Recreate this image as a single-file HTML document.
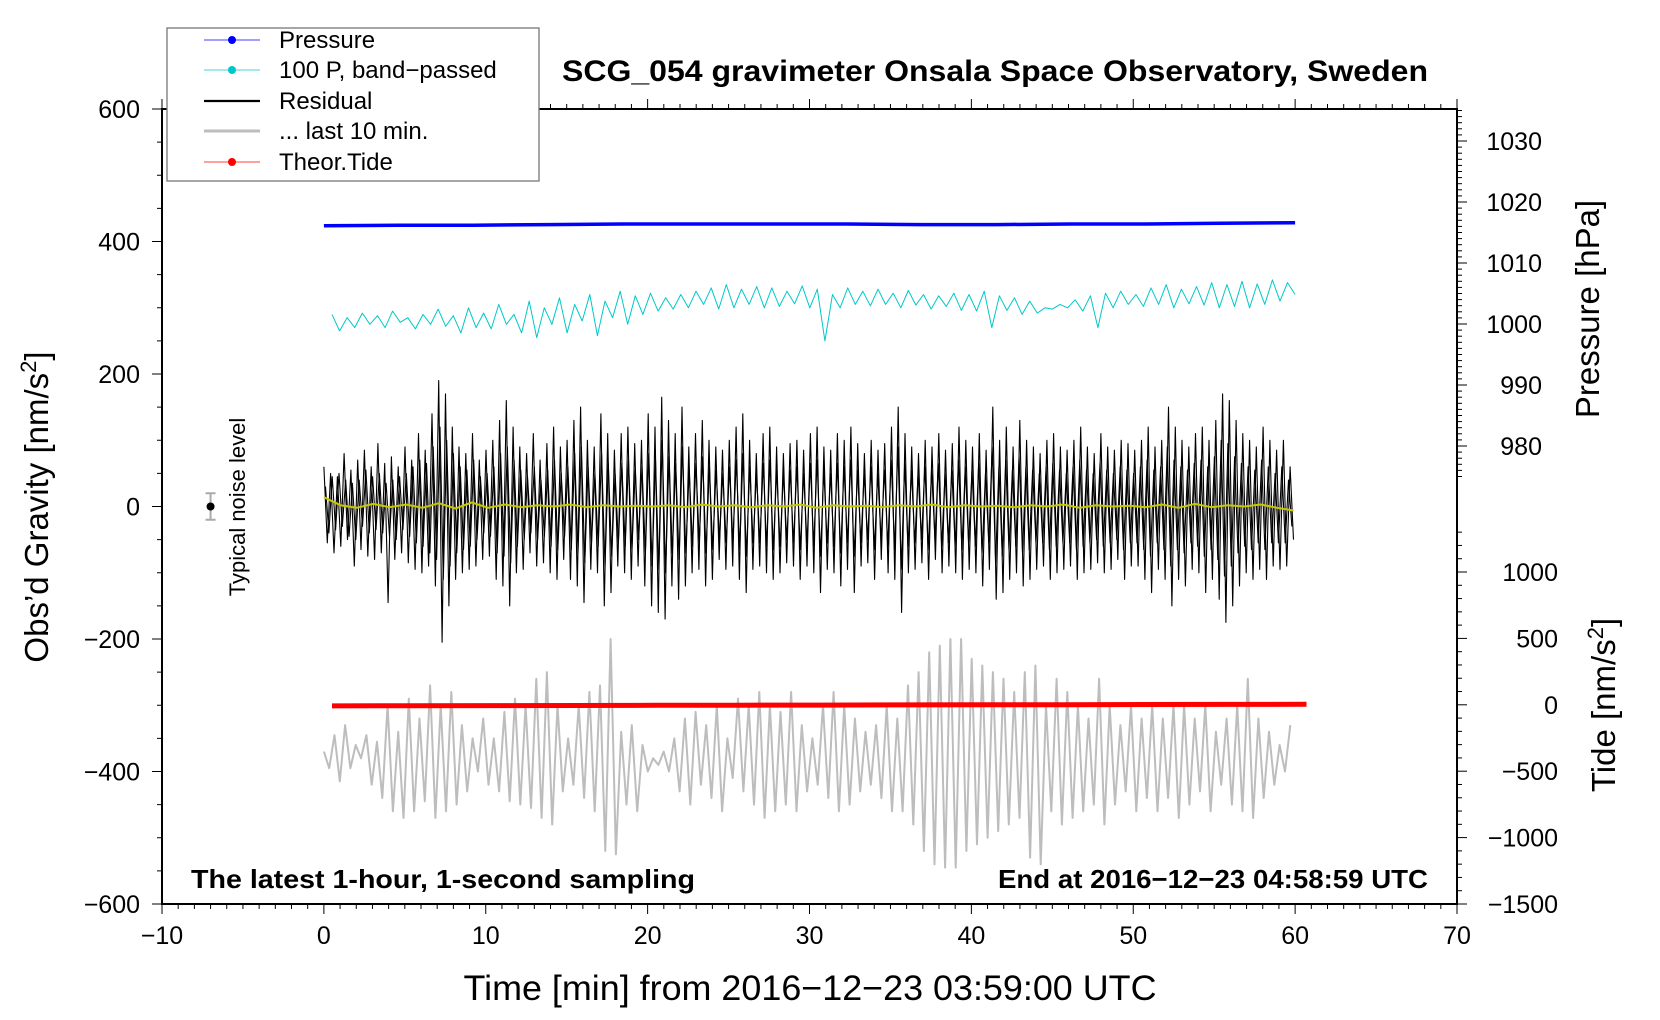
<!DOCTYPE html>
<html><head><meta charset="utf-8"><style>
html,body{margin:0;padding:0;background:#fff;}
svg{display:block;font-family:"Liberation Sans",sans-serif;}
</style></head><body>
<svg id="chart" width="1660" height="1020" viewBox="0 0 1660 1020" xmlns="http://www.w3.org/2000/svg">
<g id="series"></g>
<g id="axes"></g>
<text x="995" y="81" font-size="30" font-weight="bold" text-anchor="middle" textLength="866" lengthAdjust="spacingAndGlyphs">SCG_054 gravimeter Onsala Space Observatory, Sweden</text>
<text x="810" y="1000" font-size="35" text-anchor="middle" textLength="693" lengthAdjust="spacingAndGlyphs">Time [min] from 2016−12−23 03:59:00 UTC</text>
<text transform="translate(48,507) rotate(-90)" font-size="33" text-anchor="middle">Obs’d Gravity [nm/s<tspan font-size="22" dy="-12">2</tspan><tspan dy="12">]</tspan></text>
<text transform="translate(1599,309) rotate(-90)" font-size="33" text-anchor="middle">Pressure [hPa]</text>
<text transform="translate(1615,705) rotate(-90)" font-size="33" text-anchor="middle">Tide [nm/s<tspan font-size="22" dy="-12">2</tspan><tspan dy="12">]</tspan></text>
<text x="191" y="888" font-size="26" font-weight="bold" textLength="504" lengthAdjust="spacingAndGlyphs">The latest 1-hour, 1-second sampling</text>
<text x="1428" y="888" font-size="26" font-weight="bold" text-anchor="end" textLength="430" lengthAdjust="spacingAndGlyphs">End at 2016−12−23 04:58:59 UTC</text>
<text transform="translate(245,507) rotate(-90)" font-size="22" text-anchor="middle">Typical noise level</text>
<g>
<rect x="167" y="28" width="372" height="153" fill="#fff" stroke="#777" stroke-width="1.3"/>
<g><line x1="204" y1="40" x2="260" y2="40" stroke="#0000ff" stroke-width="0.8"/><circle cx="232" cy="40" r="4" fill="#0000ff"/><text x="279" y="48" font-size="24">Pressure</text></g>
<g><line x1="204" y1="70" x2="260" y2="70" stroke="#00c8c8" stroke-width="0.8"/><circle cx="232" cy="70" r="4" fill="#00c8c8"/><text x="279" y="78" font-size="24">100 P, band−passed</text></g>
<g><line x1="204" y1="101" x2="260" y2="101" stroke="#000" stroke-width="2.2"/><text x="279" y="109" font-size="24">Residual</text></g>
<g><line x1="204" y1="131" x2="260" y2="131" stroke="#bdbdbd" stroke-width="3"/><text x="279" y="139" font-size="24">... last 10 min.</text></g>
<g><line x1="204" y1="162" x2="260" y2="162" stroke="#ff0000" stroke-width="0.8"/><circle cx="232" cy="162" r="4" fill="#ff0000"/><text x="279" y="170" font-size="24">Theor.Tide</text></g>
</g>
</svg>
<script>
const NS="http://www.w3.org/2000/svg";
const xTicks=[-10,0,10,20,30,40,50,60,70];
const gTicks=[600,400,200,0,-200,-400,-600];
const pTicks=[980,990,1000,1010,1020,1030];
const tTicks=[1000,500,0,-500,-1000,-1500];
const residual=[60,-55,50,-70,45,-60,80,-50,55,-90,70,-65,85,-75,60,-80,95,-70,65,-145,75,-80,60,-70,
90,-85,70,-95,110,-100,85,-90,140,-120,190,-205,170,-150,120,-110,90,-100,80,-95,110,-90,70,-80,
85,-75,100,-110,130,-120,160,-150,120,-100,90,-95,80,-70,110,-90,70,-85,95,-100,120,-110,90,-80,
100,-110,130,-120,150,-145,100,-95,90,-100,140,-150,110,-130,85,-90,110,-100,120,-110,95,-90,100,-120,
140,-150,120,-160,165,-170,130,-120,110,-140,150,-120,90,-100,110,-95,130,-120,100,-110,90,-80,85,-95,
100,-90,120,-110,140,-130,100,-95,80,-90,110,-100,120,-110,90,-100,80,-85,95,-90,100,-110,85,-90,
110,-100,120,-130,90,-95,85,-100,110,-120,100,-95,120,-130,95,-90,80,-85,100,-110,85,-80,95,-100,
120,-110,150,-160,110,-100,90,-95,80,-85,100,-110,90,-80,110,-100,85,-90,95,-100,120,-110,100,-95,
90,-100,110,-120,85,-95,150,-140,100,-130,120,-110,90,-100,130,-120,100,-110,90,-95,80,-90,100,-110,
110,-100,90,-95,85,-90,100,-110,120,-100,90,-95,80,-85,110,-100,90,-95,85,-80,100,-110,95,-90,
85,-90,100,-110,120,-130,90,-95,100,-110,150,-150,120,-110,100,-120,90,-95,110,-100,120,-130,100,-110,
130,-140,170,-175,160,-150,130,-120,110,-100,100,-110,90,-95,120,-110,100,-90,85,-95,100,-90,60,-50];
const residualB=[30,-40,45,-35,50,-30,40,-45,35,-50,40,-30,55,-40,45,-35,50,-40,35,-45,40,-50,45,-35,
50,-45,60,-55,70,-60,65,-70,90,-80,120,-110,100,-90,80,-70,60,-65,55,-60,70,-50,45,-40,
50,-45,60,-70,80,-75,90,-85,70,-60,55,-50,45,-40,60,-50,40,-45,55,-60,70,-65,50,-45,
60,-65,80,-70,90,-85,60,-55,50,-60,80,-90,65,-75,50,-55,65,-60,70,-65,55,-50,60,-70,
80,-90,70,-95,100,-100,75,-70,65,-80,90,-70,55,-60,65,-55,75,-70,60,-65,55,-50,50,-55,
60,-55,70,-65,80,-75,60,-55,50,-55,65,-60,70,-65,55,-60,50,-50,55,-55,60,-65,50,-55,
65,-60,70,-75,55,-55,50,-60,65,-70,60,-55,70,-75,55,-55,50,-50,60,-65,50,-50,55,-60,
70,-65,90,-95,65,-60,55,-55,50,-50,60,-65,55,-50,65,-60,50,-55,55,-60,70,-65,60,-55,
55,-60,65,-70,50,-55,90,-85,60,-75,70,-65,55,-60,75,-70,60,-65,55,-55,50,-55,60,-65,
65,-60,55,-55,50,-55,60,-65,70,-60,55,-55,50,-50,65,-60,55,-55,50,-50,60,-65,55,-55,
50,-55,60,-65,70,-75,55,-55,60,-65,90,-90,70,-65,60,-70,55,-55,65,-60,70,-75,60,-65,
75,-80,100,-105,95,-90,75,-70,65,-60,60,-65,55,-55,70,-65,60,-55,50,-55,60,-55,40,-30];
const last10=[-370,-395,-345,-415,-330,-395,-360,-380,-345,-420,-355,-440,-300,-460,-340,
-470,-290,-460,-320,-445,-270,-470,-300,-460,-280,-450,-330,-430,-350,-400,-320,
-420,-350,-430,-310,-445,-290,-450,-300,-455,-260,-470,-250,-480,-300,-430,
-350,-420,-300,-440,-280,-460,-270,-520,-200,-525,-340,-450,-330,-460,-360,-400,
-380,-390,-370,-400,-350,-430,-320,-450,-310,-420,-330,-440,-300,-460,-350,
-410,-290,-430,-300,-450,-280,-470,-300,-460,-310,-450,-280,-460,-330,-430,-350,
-420,-300,-440,-280,-460,-300,-450,-320,-430,-340,-420,-330,-440,-300,-460,
-320,-460,-270,-480,-250,-520,-220,-540,-210,-545,-200,-545,-200,-520,-230,-510,
-240,-500,-250,-490,-260,-480,-280,-470,-250,-530,-240,-540,-300,-460,-260,
-480,-280,-470,-300,-460,-320,-450,-260,-480,-300,-450,-330,-430,-300,-460,-320,
-440,-300,-460,-320,-440,-300,-470,-300,-450,-320,-430,-300,-460,-340,-420,
-320,-450,-300,-460,-260,-470,-320,-440,-340,-420,-360,-400,-330];
const bandpassed=[290,265,285,270,292,275,288,270,295,278,285,268,290,275,298,272,288,262,300,270,
292,268,305,275,290,262,310,255,300,275,315,262,305,280,320,258,310,285,325,275,
318,290,322,295,315,298,320,300,325,305,330,298,335,300,328,305,332,300,330,302,
325,306,333,300,328,250,320,300,330,305,325,303,328,305,322,300,326,304,320,298,
318,302,322,296,320,295,325,270,318,296,315,290,310,292,300,298,305,300,312,295,
318,270,322,300,325,305,320,302,330,305,335,300,328,306,332,304,338,300,335,302,
340,300,336,305,342,310,338,320];
const pressure=[1016.1,1016.2,1016.2,1016.3,1016.4,1016.4,1016.4,1016.4,1016.3,1016.3,1016.4,1016.4,1016.5,1016.6];
const tide=[-8,-7,-6,-5,-4,-3,-2,-1,0,1,2,3,4];
const yellow=[14,2,-2,4,-1,3,-2,5,-3,6,-2,3,-1,2,0,3,-1,2,0,1,0,2,-1,3,0,2,-1,2,0,3,-2,2,0,1,-1,2,0,3,-1,2,0,1,-1,2,0,3,-2,2,0,1,-1,3,-2,4,-1,2,0,3,-2,-6];

const L=162,R=1457,T=109,B=904;
const xs=v=>L+(v+10)*(R-L)/80;
const gs=v=>506.5-v*(B-T)/1200;
const ps=v=>141+(1030-v)*6.1;
const ts=v=>B-(v+1500)*0.1328;
const ser=document.getElementById('series');
const ax=document.getElementById('axes');
function poly(vals,x0,x1,ys,col,w,name){
  const n=vals.length;const pts=vals.map((v,i)=>xs(x0+(x1-x0)*i/(n-1)).toFixed(1)+','+ys(v).toFixed(1)).join(' ');
  const p=document.createElementNS(NS,'polyline');
  p.setAttribute('points',pts);p.setAttribute('fill','none');p.setAttribute('stroke',col);p.setAttribute('stroke-width',w);p.setAttribute('stroke-linejoin','round');
  
  
  ser.appendChild(p);
}
poly(pressure,0,60,ps,'#0000ff',3.5,'pressure-line');
poly(bandpassed,0.5,60,gs,'#00c8c8',1,'bandpassed-line');
poly(last10,0,59.7,gs,'#bdbdbd',2,'last10-line');
poly(tide,0.5,60.7,ts,'#ff0000',5,'tide-line');
poly(residual,0,59.9,gs,'#000',1.1,'residual-line');
poly(residualB,0.1,59.8,gs,'#000',1.1,'residual-line-b');
poly(yellow,0,59.9,gs,'#c8c800',2,'residual-smoothed-line');
function el(tag,attrs,name,parent){const e=document.createElementNS(NS,tag);for(const k in attrs)e.setAttribute(k,attrs[k]);
  
  
  (parent||ax).appendChild(e);return e;}
el('line',{x1:xs(-7),x2:xs(-7),y1:gs(20),y2:gs(-20),stroke:'#aaa','stroke-width':2},'noise-errorbar');
el('line',{x1:xs(-7)-5,x2:xs(-7)+5,y1:gs(20),y2:gs(20),stroke:'#aaa','stroke-width':2},'noise-cap-top');
el('line',{x1:xs(-7)-5,x2:xs(-7)+5,y1:gs(-20),y2:gs(-20),stroke:'#aaa','stroke-width':2},'noise-cap-bottom');
el('circle',{cx:xs(-7),cy:gs(0),r:4,fill:'#000'},'noise-point');
el('rect',{x:L,y:T,width:R-L,height:B-T,fill:'none',stroke:'#000','stroke-width':2},'plot-frame');
for(let v=-10;v<=70;v++){const mj=v%10===0;const x=xs(v);
  el('line',{x1:x,x2:x,y1:B,y2:B+(mj?10:5),stroke:'#000','stroke-width':1},'x-tick');
  el('line',{x1:x,x2:x,y1:T,y2:T-(mj?10:5),stroke:'#000','stroke-width':1},'x-tick-top');}
xTicks.forEach(v=>{const t=el('text',{x:xs(v),y:B+40,'font-size':25,'text-anchor':'middle'},'x-tick-label');t.textContent=String(v).replace('-','−');});
for(let v=-600;v<=600;v+=50){const mj=v%200===0;
  el('line',{x1:L,x2:L-(mj?10:5),y1:gs(v),y2:gs(v),stroke:'#000','stroke-width':1},'y-tick-left');}
gTicks.forEach(v=>{const t=el('text',{x:140,y:gs(v)+9,'font-size':25,'text-anchor':'end'},'y-tick-label-left');t.textContent=String(v).replace('-','−');});
for(let v=975;v<=1035;v++){const mj=v%10===0;
  el('line',{x1:R,x2:R+(mj?10:5),y1:ps(v),y2:ps(v),stroke:'#000','stroke-width':1},'pressure-tick');}
pTicks.forEach(v=>{const t=el('text',{x:1542,y:ps(v)+9,'font-size':25,'text-anchor':'end'},'pressure-tick-label');t.textContent=v;});
for(let v=-1500;v<=1300;v+=100){const mj=v%500===0;
  el('line',{x1:R,x2:R+(mj?10:5),y1:ts(v),y2:ts(v),stroke:'#000','stroke-width':1},'tide-tick');}
tTicks.forEach(v=>{const t=el('text',{x:1558,y:ts(v)+9,'font-size':25,'text-anchor':'end'},'tide-tick-label');t.textContent=String(v).replace('-','−');});
</script>
</body></html>
